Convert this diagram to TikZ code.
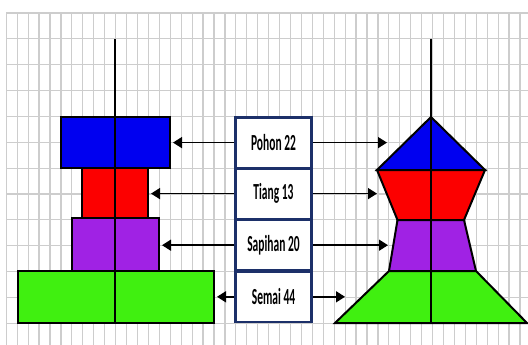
\documentclass[tikz,border=0pt]{standalone}
\usepackage{fontspec}
\setmainfont{Carlito}
\usetikzlibrary{arrows.meta}
\definecolor{tierblue}{RGB}{0,0,240}
\definecolor{tierred}{RGB}{252,0,0}
\definecolor{tierpurple}{RGB}{160,34,228}
\definecolor{tiergreen}{RGB}{64,240,16}
\definecolor{boxnavy}{RGB}{28,48,105}
\definecolor{gridgray}{RGB}{205,205,205}
\tikzset{
  gridline/.style={draw=gridgray, line width=1.2pt},
  pole/.style={draw=black, line width=1.4pt},
  tier/.style={draw=black, line width=2pt, miter limit=10},
  tierbox/.style={tier, rectangle, inner sep=0pt},
  labelbox/.style={draw=boxnavy, line width=2.6pt, fill=white, rectangle,
    minimum width=76.5pt, minimum height=50.5pt, inner sep=0pt,
    font=\fontsize{23}{26}\selectfont\bfseries},
  pointer/.style={draw=black, line width=1.5pt, -{Triangle[length=9pt,width=11pt]}}
}
\newcommand{\narrow}[1]{\scalebox{0.5}[1]{#1}}
\begin{document}
\begin{tikzpicture}[x=1pt, y=-1pt]
  \useasboundingbox (0,0) rectangle (528,345);
  \fill[white] (0,0) rectangle (528,345);

  % squared paper
  \foreach \k in {0,...,47} {
    \draw[gridline] ({6.3+10.93*\k},13) -- ({6.3+10.93*\k},345);
  }
  \foreach \k in {0,...,12} {
    \draw[gridline] (6.3,{13+25.85*\k}) -- (528,{13+25.85*\k});
  }

  % left stack of rectangles
  \node[tierbox, fill=tierblue,   minimum width=109pt, minimum height=51pt]   (blueL)   at (115.5,142.5) {};
  \node[tierbox, fill=tierred,    minimum width=66pt,  minimum height=50pt]   (redL)    at (115,193) {};
  \node[tierbox, fill=tierpurple, minimum width=87pt,  minimum height=53pt]   (purpleL) at (115.5,244.5) {};
  \node[tierbox, fill=tiergreen,  minimum width=196pt, minimum height=51.5pt] (greenL)  at (116,296.8) {};
  \coordinate (poleLtop) at (115,39);
  \coordinate (poleLbot) at (115,322.5);
  \draw[pole] (poleLtop) -- (poleLbot);

  % right stack of polygons
  \draw[tier, fill=tierblue]   (431,117) -- (485,170) -- (377,170) -- cycle;
  \draw[tier, fill=tierred]    (377,170) -- (485,170) -- (464,220) -- (397.5,220) -- cycle;
  \draw[tier, fill=tierpurple] (397.5,220) -- (464,220) -- (476,271) -- (389,271) -- cycle;
  \draw[tier, fill=tiergreen]  (389,271) -- (476,271) -- (527,323) -- (335,323) -- cycle;
  \coordinate (poleRtop) at (431,39);
  \coordinate (poleRbot) at (431,323);
  \draw[pole] (poleRtop) -- (poleRbot);

  % labels
  \node[labelbox] (pohon)   at (273.5,142.6) {\narrow{Pohon 22}};
  \node[labelbox] (tiang)   at (273.5,193.6) {\narrow{Tiang 13}};
  \node[labelbox] (sapihan) at (273.5,245.2) {\narrow{Sapihan 20}};
  \node[labelbox] (semai)   at (273.5,296.8) {\narrow{Semai 44}};

  % arrow tips on the right
  \coordinate (tipP) at (387,142.6);
  \coordinate (tipT) at (377,193.6);
  \coordinate (tipS) at (388,245.2);
  \coordinate (tipM) at (345,296.8);

  % pointers
  \draw[pointer] (pohon.west)   -- ([xshift=2pt]pohon.west -| blueL.east);
  \draw[pointer] (tiang.west)   -- ([xshift=2pt]tiang.west -| redL.east);
  \draw[pointer] (sapihan.west) -- ([xshift=2pt]sapihan.west -| purpleL.east);
  \draw[pointer] (semai.west)   -- ([xshift=2pt]semai.west -| greenL.east);
  \draw[pointer] (pohon.east)   -- (tipP);
  \draw[pointer] (tiang.east)   -- (tipT);
  \draw[pointer] (sapihan.east) -- (tipS);
  \draw[pointer] (semai.east)   -- (tipM);
\end{tikzpicture}
\end{document}
